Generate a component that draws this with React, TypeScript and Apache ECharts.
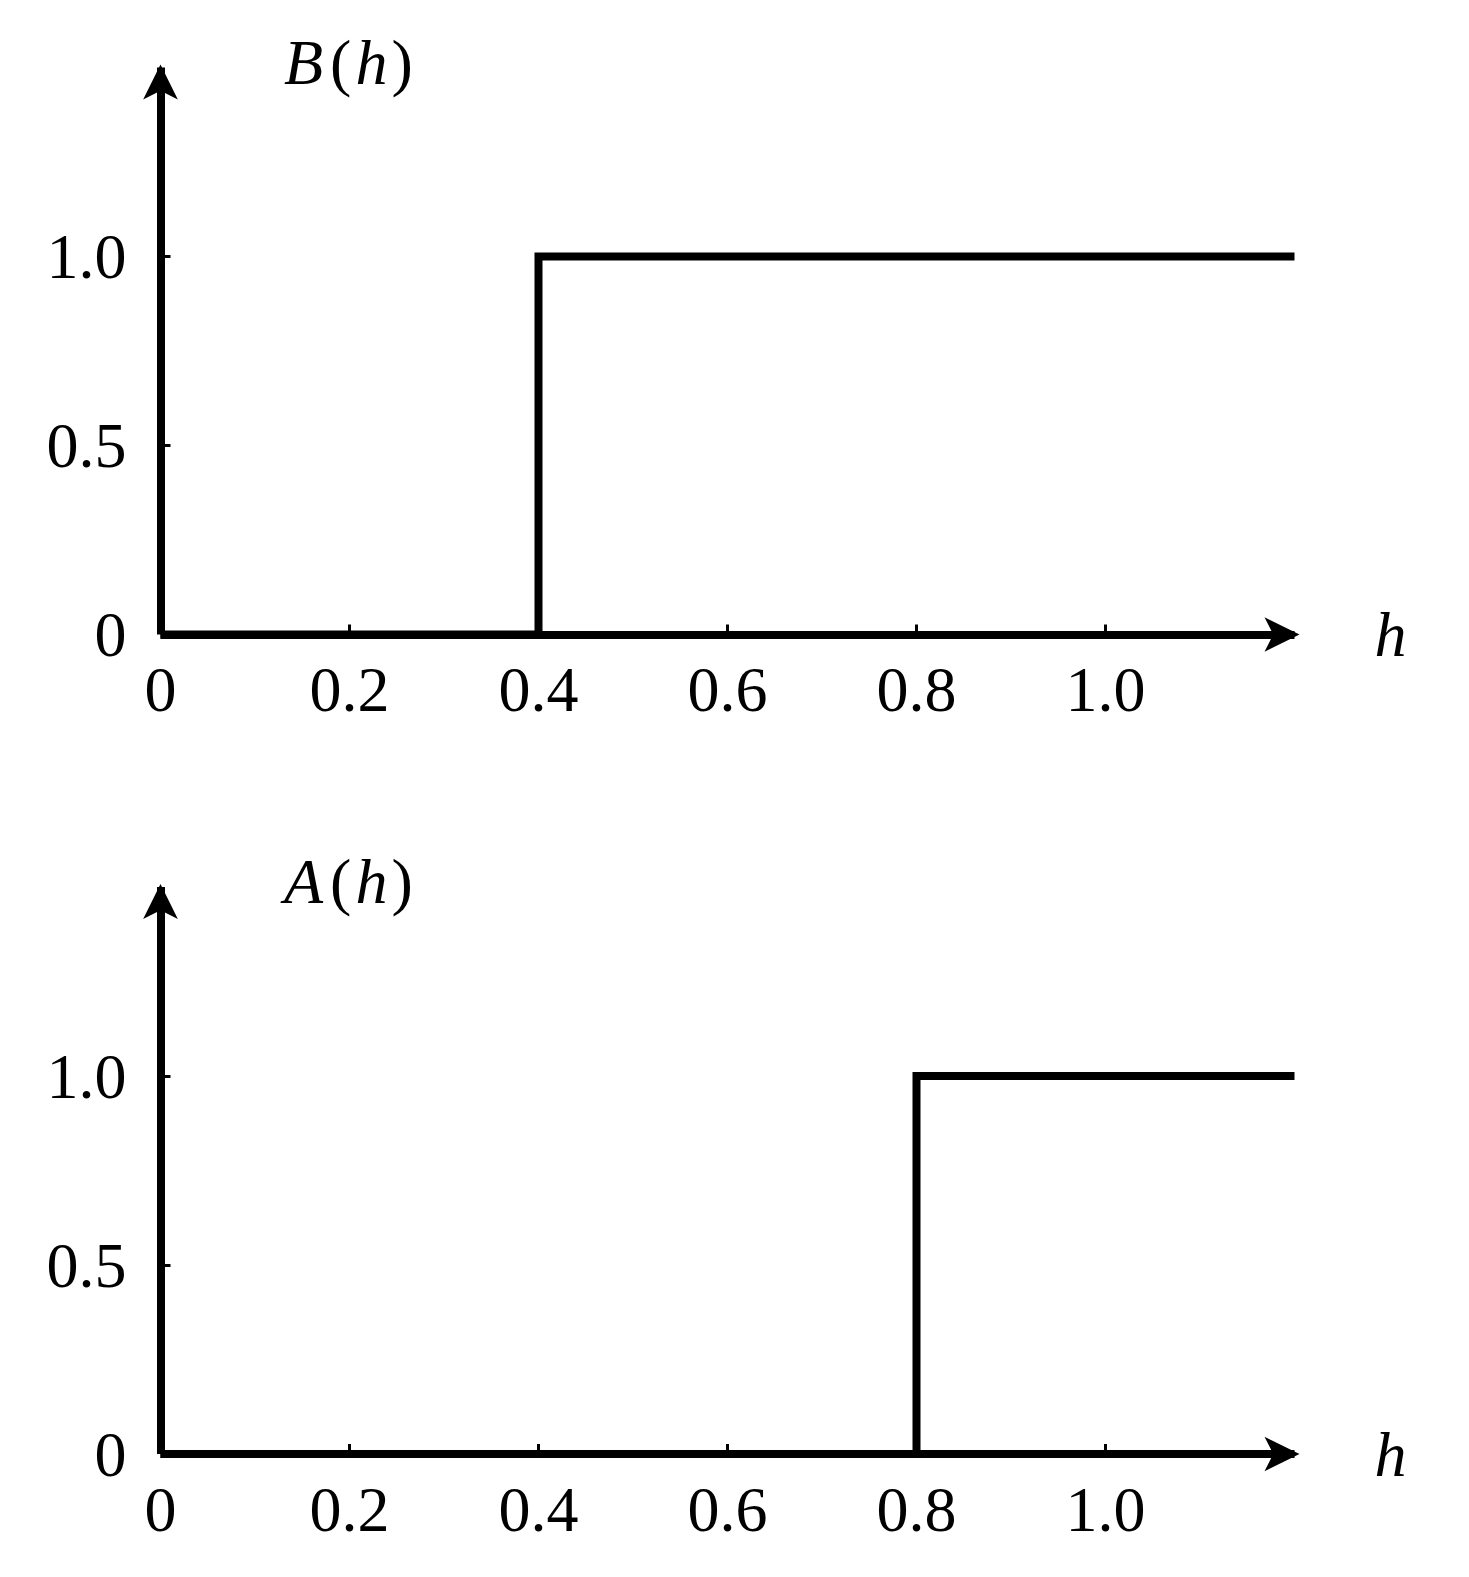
import React, { useEffect, useRef } from "react";
import * as echarts from "echarts";

const hLabels = [0, 0.2, 0.4, 0.6, 0.8, 1.0];
const hTicks = [0.2, 0.4, 0.6, 0.8, 1.0];
const yLabels = [0, 0.5, 1.0];
const yTicks = [0.5, 1.0];
const bX = [0, 0.4, 1.2];
const bY = [0, 1, 1];
const aX = [0, 0.8, 1.2];
const aY = [0, 1, 1];
const titles = ["B", "A"];

const FONT = "'Liberation Serif', 'Times New Roman', serif";

const fmtH = (v: number) => (v === 0 ? "0" : v.toFixed(1));

export default function App() {
  const ref = useRef<HTMLDivElement>(null);
  useEffect(() => {
    if (!ref.current) return;
    const chart = echarts.init(ref.current, null, { renderer: "svg" });
    const gridTop = [67.5, 887];
    const grids = gridTop.map((t) => ({ left: 160.5, top: t, width: 1134, height: 567 }));
    const lineStyle = { color: "#000", width: 8, cap: "butt" as const };
    const arrowSize = [26, 35];
    const arrowOffset = [0, 5];
    const xAxes = grids.map((_, i) => ({
      type: "value" as const,
      gridIndex: i,
      min: 0,
      max: 1.2,
      interval: 0.2,
      name: "h",
      nameLocation: "end" as const,
      nameGap: 80,
      nameTextStyle: { fontFamily: FONT, fontSize: 64, fontStyle: "italic", color: "#000", verticalAlign: "middle" },
      axisLine: { show: true, symbol: ["none", "arrow"], symbolSize: arrowSize, symbolOffset: arrowOffset, lineStyle },
      axisTick: { show: true, inside: true, length: 10, lineStyle: { color: "#000", width: 3 }, customValues: hTicks },
      axisLabel: { show: true, margin: 23, fontFamily: FONT, fontSize: 64, color: "#000", customValues: hLabels, formatter: fmtH },
      splitLine: { show: false },
    }));
    const yAxes = grids.map((_, i) => ({
      type: "value" as const,
      gridIndex: i,
      min: 0,
      max: 1.5,
      interval: 0.5,
      axisLine: { show: true, symbol: ["none", "arrow"], symbolSize: arrowSize, symbolOffset: [0, 3], lineStyle },
      axisTick: { show: true, inside: true, length: 10, lineStyle: { color: "#000", width: 3 }, customValues: yTicks },
      axisLabel: { show: true, margin: 34, fontFamily: FONT, fontSize: 64, color: "#000", customValues: yLabels, formatter: fmtH },
      splitLine: { show: false },
    }));
    const series = [
      [bX, bY],
      [aX, aY],
    ].map(([xs, ys], i) => ({
      type: "line" as const,
      xAxisIndex: i,
      yAxisIndex: i,
      step: "end" as const,
      showSymbol: false,
      clip: false,
      lineStyle: { color: "#000", width: 8, join: "miter" as const },
      data: xs.map((x, k) => [x, ys[k]]),
    }));
    const rich = {
      i: { fontFamily: FONT, fontSize: 64, fontStyle: "italic", fill: "#000", color: "#000", padding: [0, 4, 0, 4] },
      b: { fontFamily: FONT, fontSize: 64, fontStyle: "italic", fill: "#000", color: "#000", padding: [0, 7, 0, 7] },
      p: { fontFamily: FONT, fontSize: 64, fontStyle: "normal", fill: "#000", color: "#000" },
    };
    const graphic = titles.map((t, i) => ({
      type: "text" as const,
      x: 277,
      y: 62 + i * 819.5,
      style: {
        text: `{b|${t}}{p|(}{i|h}{p|)}`,
        rich,
        fill: "#000",
        font: `64px ${FONT}`,
        align: "left",
        verticalAlign: "middle",
      },
    }));
    chart.setOption({
      animation: false,
      backgroundColor: "#fff",
      grid: grids,
      xAxis: xAxes,
      yAxis: yAxes,
      series,
      graphic,
    });
    return () => chart.dispose();
  }, []);
  return (
    <div
      ref={ref}
      style={{ position: "absolute", left: 0, top: 0, width: 1469, height: 1577, background: "#fff" }}
    />
  );
}
